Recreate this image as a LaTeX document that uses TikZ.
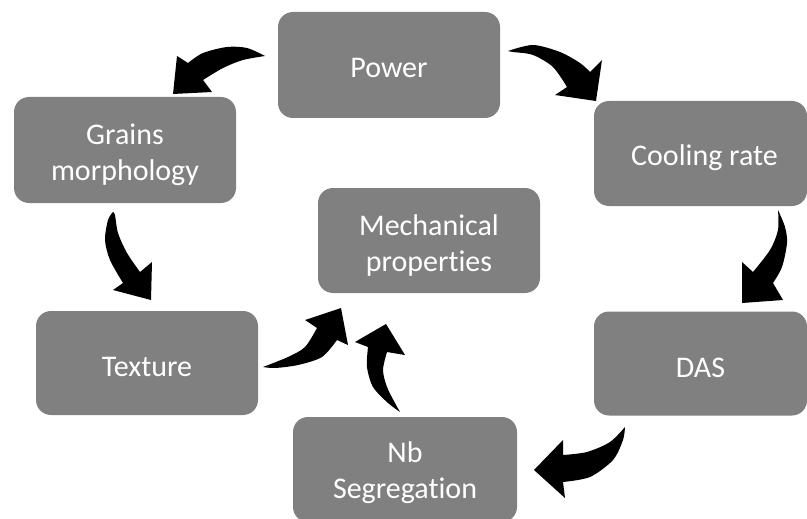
\documentclass[tikz,border=0pt]{standalone}
\usepackage{fontspec}
\setmainfont{Carlito}[Ligatures={NoCommon}]
\definecolor{boxgray}{RGB}{128,128,128}
\begin{document}
\begin{tikzpicture}[x=1pt,y=-1pt,
  box/.style={fill=boxgray, draw=none, rounded corners=15pt, inner sep=0pt},
  lbl/.style={text=white, align=center, inner sep=0pt, font=\fontsize{30}{36.5}\selectfont},
  arr/.style={fill=black, draw=none}]
\useasboundingbox (0,0) rectangle (807,519);
\begin{scope}
\clip (0,0) rectangle (807,519);
\node[box, minimum width=222pt, minimum height=106pt] (power) at (389,65) {};
\node[box, minimum width=222pt, minimum height=106pt] (grains) at (125,150) {};
\node[box, minimum width=213pt, minimum height=105pt] (cooling) at (700.5,153.5) {};
\node[box, minimum width=222pt, minimum height=105pt] (mech) at (429,240.5) {};
\node[box, minimum width=222pt, minimum height=104pt] (texture) at (147,363) {};
\node[box, minimum width=213pt, minimum height=104pt] (das) at (700.5,363.5) {};
\node[box, minimum width=224pt, minimum height=105pt] (nb) at (405,469.5) {};
\end{scope}
\node[lbl] (powert) at ([yshift=-3pt]power.center) {Power};
\node[lbl] (grainst) at ([yshift=-5pt]grains.center) {Grains\\morphology};
\node[lbl] (coolingt) at ([xshift=4pt,yshift=-4pt]cooling.center) {Cooling rate};
\node[lbl] (mecht) at ([yshift=-5pt]mech.center) {Mechanical\\properties};
\node[lbl] (texturet) at ([yshift=-4pt]texture.center) {Texture};
\node[lbl] (dast) at ([yshift=-4pt]das.center) {DAS};
\node[lbl] (nbt) at ([yshift=-3pt]nb.center) {Nb\\Segregation};
% Power -> Grains
\fill[arr] plot[smooth] coordinates {(265,56) (247,48) (227,47) (203,53) (188,63)}
  -- (177,56) -- (173,94) -- (212,92) -- (203,80)
  -- plot[smooth] coordinates {(203,80) (223,68) (243,60) (265,56)} -- cycle;
% Power -> Cooling
\fill[arr] plot[smooth] coordinates {(508,51) (533,45) (560,52) (580,63) (590,72)}
  -- (602,60) -- (596,101) -- (555,95) -- (567,87)
  -- plot[smooth] coordinates {(567,87) (553,67) (533,55) (513,52) (508,51)} -- cycle;
% Grains -> Texture
\fill[arr] plot[smooth] coordinates {(113,212) (108,220) (105,240) (110,260) (123,283)}
  -- (113,290) -- (151,300) -- (152,262) -- (140,272)
  -- plot[smooth] coordinates {(140,272) (127,253) (118,233) (115,215) (113,212)} -- cycle;
% Cooling -> DAS
\fill[arr] plot[smooth] coordinates {(778,210) (785,227) (787,243) (782,267) (773,283)}
  -- (783,300) -- (742,303) -- (742,262) -- (753,272)
  -- plot[smooth] coordinates {(753,272) (770,250) (778,230) (778,210)} -- cycle;
% DAS -> Nb
\fill[arr] plot[smooth] coordinates {(625,427) (610,442) (587,452) (563,455)}
  -- (563,440) -- (534,470) -- (565,498) -- (563,482)
  -- plot[smooth] coordinates {(563,482) (590,477) (613,460) (623,440) (625,427)} -- cycle;
% Texture -> Mechanical
\fill[arr] plot[smooth] coordinates {(263,367) (288,357) (305,347) (317,328)}
  -- (305,320) -- (341,308) -- (348,345) -- (337,340)
  -- plot[smooth] coordinates {(337,340) (322,357) (298,365) (275,368) (263,367)} -- cycle;
% Nb -> Mechanical
\fill[arr] plot[smooth] coordinates {(400,412) (388,403) (373,387) (367,367) (368,347)}
  -- (355,342) -- (386,324) -- (405,355) -- (387,352)
  -- plot[smooth] coordinates {(387,352) (383,370) (387,387) (395,403) (400,412)} -- cycle;
\end{tikzpicture}
\end{document}
